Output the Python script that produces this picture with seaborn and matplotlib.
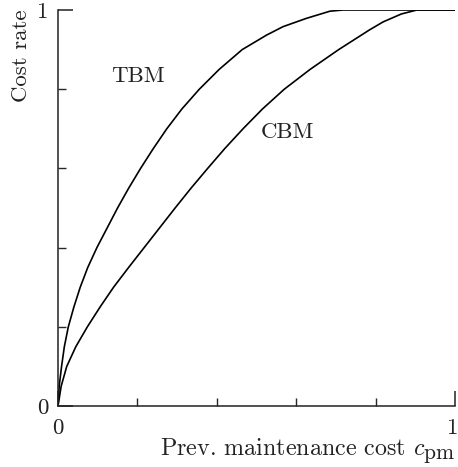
import numpy as np
import pandas as pd
import matplotlib
matplotlib.use("Agg")
import matplotlib.pyplot as plt
import matplotlib.transforms as mtransforms
import seaborn as sns
from matplotlib.ticker import MultipleLocator, FixedLocator

# Cost rate versus preventive-maintenance cost for the two policies
tbm_cost = [0.0, 0.003, 0.009, 0.016, 0.026, 0.040, 0.056, 0.075, 0.098, 0.124, 0.150,
            0.178, 0.208, 0.240, 0.274, 0.312, 0.356, 0.406, 0.464, 0.526, 0.567,
            0.626, 0.685, 0.718, 1.0]
tbm_rate = [0.0, 0.05, 0.10, 0.15, 0.20, 0.25, 0.30, 0.35, 0.40, 0.45, 0.50,
            0.55, 0.60, 0.65, 0.70, 0.75, 0.80, 0.85, 0.90, 0.937, 0.958,
            0.979, 0.997, 1.0, 1.0]

cbm_cost = [0.0, 0.008, 0.022, 0.045, 0.074, 0.106, 0.140, 0.178, 0.217, 0.256, 0.295,
            0.335, 0.377, 0.420, 0.466, 0.515, 0.570, 0.635, 0.707, 0.785, 0.819,
            0.865, 0.904, 1.0]
cbm_rate = [0.0, 0.05, 0.10, 0.15, 0.20, 0.25, 0.30, 0.35, 0.40, 0.45, 0.50,
            0.55, 0.60, 0.65, 0.70, 0.75, 0.80, 0.85, 0.90, 0.95, 0.97,
            0.99, 1.0, 1.0]

policy_labels = ["TBM", "CBM"]
label_pos = [(0.2015, 0.818), (0.579, 0.677)]

df = pd.concat([
    pd.DataFrame({"cost": tbm_cost, "rate": tbm_rate, "policy": "TBM"}),
    pd.DataFrame({"cost": cbm_cost, "rate": cbm_rate, "policy": "CBM"}),
])

sns.set_style("ticks")
plt.rcParams["font.family"] = ["cmr10", "DejaVu Serif"]
plt.rcParams["mathtext.fontset"] = "cm"
plt.rcParams["axes.formatter.use_mathtext"] = True

# larger subscripts in the axis label
try:
    import matplotlib._mathtext as _mt
    _mt.SHRINK_FACTOR = 0.9
except Exception:
    pass

FS = 16.5
INK = "#222222"

fig = plt.figure(figsize=(4.58, 4.67), dpi=100)
ax = fig.add_axes([58 / 458, 61 / 467, 397 / 458, 396 / 467])

sns.lineplot(data=df, x="cost", y="rate", units="policy", estimator=None,
             color="black", linewidth=1.2, sort=False, ax=ax)

for name, (x, y) in zip(policy_labels, label_pos):
    ax.text(x, y, name, fontsize=FS, color=INK, ha="center", va="baseline")

ax.set_xlim(0, 1)
ax.set_ylim(0, 1)
ax.xaxis.set_major_locator(FixedLocator([0, 1]))
ax.yaxis.set_major_locator(FixedLocator([0, 1]))
ax.xaxis.set_minor_locator(MultipleLocator(0.2))
ax.yaxis.set_minor_locator(MultipleLocator(0.2))
ax.set_xticklabels(["0", "1"])
ax.set_yticklabels(["0", "1"])
ax.tick_params(which="major", direction="in", length=11, width=1.1,
               labelsize=FS, colors=INK)
ax.tick_params(axis="x", which="major", pad=9)
ax.tick_params(axis="y", which="major", pad=7)
ax.tick_params(which="minor", direction="in", length=5.5, width=1.0)

# keep the right-hand "1" inside the canvas
last = ax.get_xticklabels()[-1]
last.set_transform(last.get_transform()
                   + mtransforms.ScaledTranslation(-2 / 72, 0, fig.dpi_scale_trans))

for side in ("top", "right"):
    ax.spines[side].set_visible(False)
for side in ("left", "bottom"):
    ax.spines[side].set_linewidth(1.1)
    ax.spines[side].set_color(INK)

ax.set_xlabel(r"Prev. maintenance cost $c_{\rm pm}$", fontsize=17.3, loc="right",
              color=INK, labelpad=-1)
ax.set_ylabel("Cost rate", fontsize=FS, loc="top", color=INK, labelpad=4)
if ax.get_legend() is not None:
    ax.get_legend().remove()

fig.savefig("out.png", dpi=100)
